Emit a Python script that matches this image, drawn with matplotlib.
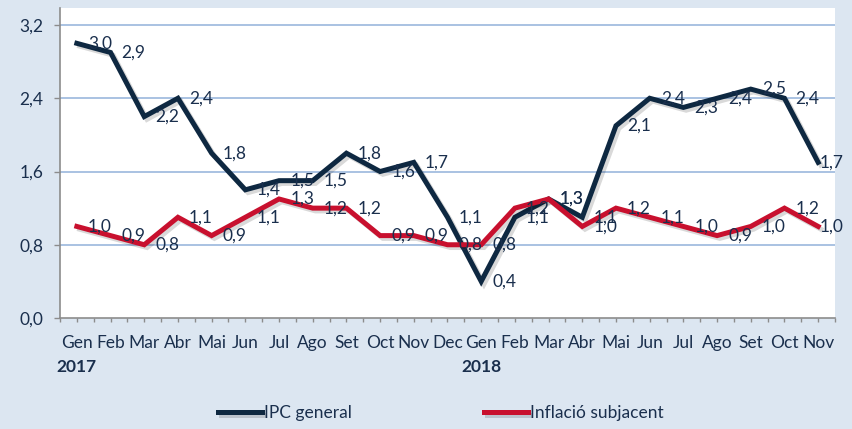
import matplotlib
matplotlib.use("Agg")
import matplotlib.pyplot as plt
import matplotlib.patheffects as pe

# Data
months = ["Gen", "Feb", "Mar", "Abr", "Mai", "Jun", "Jul", "Ago", "Set", "Oct", "Nov", "Dec",
          "Gen", "Feb", "Mar", "Abr", "Mai", "Jun", "Jul", "Ago", "Set", "Oct", "Nov"]
years = ["2017", "2018"]
year_start = [0, 12]
ipc_general = [3.0, 2.9, 2.2, 2.4, 1.8, 1.4, 1.5, 1.5, 1.8, 1.6, 1.7, 1.1,
               0.4, 1.1, 1.3, 1.1, 2.1, 2.4, 2.3, 2.4, 2.5, 2.4, 1.7]
inflacio_subjacent = [1.0, 0.9, 0.8, 1.1, 0.9, 1.1, 1.3, 1.2, 1.2, 0.9, 0.9, 0.8,
                      0.8, 1.2, 1.3, 1.0, 1.2, 1.1, 1.0, 0.9, 1.0, 1.2, 1.0]
yticks = [0.0, 0.8, 1.6, 2.4, 3.2]

navy = "#0e2841"
red = "#c8102e"
text_col = "#1a2f4d"
bg = "#dce6f1"
grid_col = "#9bb7dd"

plt.rcParams["font.family"] = ["Lato", "DejaVu Sans"]
plt.rcParams["font.size"] = 12.5

fig = plt.figure(figsize=(8.52, 4.29), dpi=100, facecolor=bg)
ax = fig.add_axes([60 / 852, 1 - 318 / 429, 775 / 852, 310 / 429])
ax.set_facecolor("white")

x = [i + 0.5 for i in range(len(months))]
shadow = [pe.SimpleLineShadow(offset=(2, -2), alpha=0.15, shadow_color="k"), pe.Normal()]

ax.plot(x, ipc_general, color=navy, lw=3.6, label="IPC general",
        path_effects=shadow, solid_joinstyle="miter", zorder=3)
ax.plot(x, inflacio_subjacent, color=red, lw=3.6, label="Inflació subjacent",
        path_effects=shadow, solid_joinstyle="miter", zorder=3)

# data labels to the right of each point; the last one is pulled in to stay inside
for series in (ipc_general, inflacio_subjacent):
    for i, (xi, v) in enumerate(zip(x, series)):
        dx = 1 if i == len(x) - 1 else 8
        ax.annotate(f"{v:.1f}".replace(".", ","), (xi, v), xytext=(dx, 0),
                    textcoords="offset points", ha="left", va="center",
                    color=text_col, fontsize=12.5, zorder=4, annotation_clip=False)

ax.set_xlim(0, len(months))
ax.set_ylim(0, 3.386)
ax.set_yticks(yticks)
ax.set_yticklabels([f"{t:.1f}".replace(".", ",") for t in yticks])
ax.set_xticks(x)
ax.set_xticklabels(months)
ax.set_xticks(range(len(months) + 1), minor=True)

for t in yticks[1:]:
    ax.axhline(t, color=grid_col, lw=1.2, zorder=1)

for s in ("top", "right"):
    ax.spines[s].set_visible(False)
for s in ("left", "bottom"):
    ax.spines[s].set_color("#8c8c8c")
    ax.spines[s].set_linewidth(1.2)

ax.tick_params(axis="y", length=4, width=1, color="#8c8c8c", pad=8)
ax.tick_params(axis="x", which="both", length=3, width=1, color="#8c8c8c", pad=9)
for lbl in ax.get_yticklabels() + ax.get_xticklabels():
    lbl.set_color(text_col)

trans = ax.get_xaxis_transform()
for yr, i0 in zip(years, year_start):
    ax.text(i0 + 0.5, -0.158, yr, transform=trans, ha="center", va="center",
            fontweight="bold", color=text_col, fontsize=12.5)

fig.legend(loc="center", bbox_to_anchor=(441 / 852, 1 - 413 / 429), ncol=2,
           frameon=False, handlelength=2.5, handletextpad=0.15, columnspacing=7.6,
           labelcolor=text_col)

fig.savefig("out.png", dpi=100, facecolor=bg)
